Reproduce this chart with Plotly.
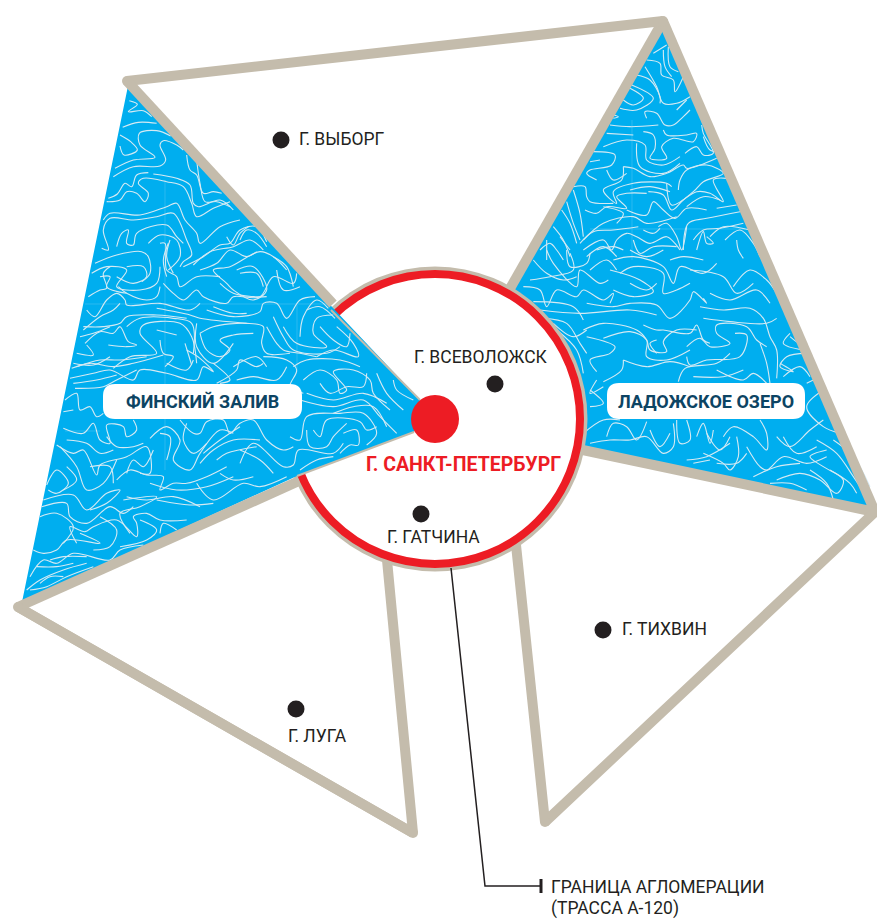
import plotly.graph_objects as go

BLUE = "#00AEEF"; BEIGE = "#C4BCAC"; RED = "#ED1C24"; INK = "#231F20"; NAVY = "#0C4463"; WAVE = "#D5EAF3"
FONT = "Roboto, Noto Sans, sans-serif"

# frame outlines (picture pixels)
top_x = [127, 663]; top_y = [81, 21]
gulf_upper_x = [127, 333]; gulf_upper_y = [81, 304]
gulf_lower_x = [18, 299]; gulf_lower_y = [607, 481]
gulf_thin_up_x = [331, 420]; gulf_thin_up_y = [310, 400]
gulf_thin_lo_x = [297, 414]; gulf_thin_lo_y = [476, 432]
lake_left_x = [663, 508]; lake_left_y = [21, 292]
lake_right_x = [663, 875]; lake_right_y = [21, 512]
lake_lower_x = [875, 578]; lake_lower_y = [512, 449]
south_w_x = [18, 413, 387]; south_w_y = [607, 833, 560]
south_e_x = [875, 545, 516]; south_e_y = [512, 822, 545]
corner_x = [127, 663, 875, 18, 413, 545]; corner_y = [81, 21, 512, 607, 833, 822]
gulf_x = [128, 22, 297, 414, 420, 333]; gulf_y = [86, 602, 476, 432, 400, 308]
lake_x = [663, 505, 575, 875]; lake_y = [25, 290, 446, 515]
leader_x = [451, 485, 540]; leader_y = [568, 886, 886]
tick_x = [541, 541]; tick_y = [879, 893]
seam_gulf = [[[165, 165], [180, 470]], [[297, 297], [305, 370]], [[85, 330], [304, 304]], [[65, 100], [431, 431]]]
seam_lake = [[[632, 632], [120, 260]], [[590, 745], [229, 229]]]

gulf_crop1 = [
 [(388,92),(412,103),(385,125),(430,122),(455,140)], [(368,172),(415,157),(470,160)],
 [(360,195),(392,215),(412,240),(372,255),(360,228)], [(345,295),(400,270),(465,262),(420,225),(418,190),(470,182),(512,198)],
 [(340,320),(400,290),(480,288),(497,270),(480,225),(490,212),(530,225),(550,240)], [(560,255),(570,300),(590,315),(610,370),(640,365),(665,370)],
 [(325,385),(352,372),(375,340),(395,350),(410,315),(445,308)],
 [(320,395),(360,390),(380,365),(410,370),(435,395),(445,370),(415,340),(430,325),(500,335),(550,350),(575,400),(590,440),(640,415),(690,395)],
 [(460,312),(530,325),(570,345),(580,400),(595,410),(660,390),(700,420)],
 [(310,450),(330,430),(420,435),(500,410),(530,400),(555,450),(590,490),(600,520),(660,470),(720,450)],
 [(305,535),(325,540),(310,480),(330,445),(400,450),(470,440),(520,430),(560,510),(575,555),(550,575),(540,590)],
 [(350,530),(365,490),(385,480),(380,520),(400,525),(410,490),(500,465),(530,500),(550,520)],
 [(480,520),(495,520),(500,600),(530,620),(540,650),(590,620),(660,620)], [(285,580),(350,555),(425,545),(445,560),(450,610),(425,635)],
 [(445,520),(480,495),(530,510),(540,560),(505,600)], [(275,610),(320,590),(380,600),(350,650),(420,660),(470,640),(480,590)],
 [(550,590),(610,560),(660,525),(690,520),(720,480),(770,470),(800,515)], [(580,585),(630,545),(700,530),(750,510),(790,540)],
 [(710,600),(760,590),(800,660),(760,690),(700,660),(680,640),(640,600),(690,590),(780,545),(820,560),(860,600)],
 [(265,680),(300,660),(320,655),(310,610),(330,590)], [(260,720),(285,740),(320,690),(350,670),(375,690),(380,705),(480,700),(570,720),(600,700)],
 [(480,650),(470,680),(440,690),(380,670),(355,650)],
 [(490,640),(520,670),(550,690),(590,660),(610,680),(680,700),(700,680),(780,680),(820,620),(880,640),(890,610)],
 [(620,720),(700,740),(780,725),(790,700),(830,700),(860,745),(900,690),(945,680)], [(470,715),(570,735),(600,745),(740,760)],
 [(640,710),(700,730),(740,730)], [(250,770),(310,770),(360,760),(380,740),(470,735),(560,745)],
 [(255,820),(300,785),(340,790),(360,770),(385,815),(410,825),(380,830),(325,825)], [(230,850),(280,855),(260,825)],
 [(220,880),(280,885),(330,860)], [(340,895),(390,860),(470,850),(420,790),(430,765),(540,760),(575,800),(590,880)],
 [(480,810),(490,850),(520,860),(495,890)], [(470,780),(530,795)], [(555,820),(575,885)],
 [(600,790),(640,770),(740,760),(790,770),(785,820),(800,850),(870,850)], [(600,790),(620,840),(660,860),(690,840),(660,810),(700,795),(760,790)],
 [(850,770),(890,820),(980,830),(940,790),(950,745),(1000,735)], [(900,800),(910,740),(950,690),(985,715)],
 [(1010,770),(1060,820),(1075,860),(1000,840),(950,860)], [(700,890),(770,860),(800,890)], [(880,890),(920,870),(1020,870),(1080,890)],
 [(590,270),(600,340),(615,395),(650,395),(690,410)], [(720,510),(740,480),(770,490),(800,530)], [(680,500),(700,525),(720,490),(745,470)],
 [(600,600),(650,580),(690,540),(740,560),(770,545)], [(820,560),(860,590),(880,650)], [(830,600),(850,660),(900,650)],
 [(660,640),(700,670),(760,680),(800,680)], [(720,610),(770,610),(790,650)], [(510,510),(500,560),(520,610)], [(505,520),(490,570),(500,620)],
 [(350,620),(400,640),(440,620),(430,590),(380,590)], [(300,620),(330,620),(320,650),(380,670)], [(250,780),(300,740),(340,720),(360,700)],
 [(240,800),(280,790),(330,770)], [(380,770),(420,745),(520,745),(575,760),(580,850)], [(590,760),(590,830),(640,880),(700,820)],
 [(800,770),(830,820),(850,840),(900,850),(950,860)], [(820,740),(850,800),(880,840),(980,850),(1020,830)], [(960,770),(1000,810),(1040,830),(1050,790)],
 [(920,720),(960,710),(1005,745)],
]
gulf_crop2 = [
 [(215,55),(270,40),(340,50),(400,40),(490,15)], [(210,85),(280,70),(330,60),(400,90),(420,60),(500,70),(590,90),(610,50),(640,65),(600,25),(560,0)],
 [(225,115),(310,110),(350,90),(410,60)], [(195,150),(230,130),(240,180),(270,170),(290,200),(310,190)], [(190,185),(220,180)],
 [(650,100),(710,60),(720,30),(770,50),(790,40)], [(790,20),(860,30),(890,60),(870,110),(910,130)],
 [(910,90),(960,60),(1010,90),(1020,130),(1040,120),(1000,65),(1060,60),(1110,90),(1120,130),(1170,180)],
 [(920,130),(1000,150),(1090,130),(1160,160)], [(1180,90),(1190,120),(1240,150)], [(900,150),(1000,170),(1090,150),(1140,200),(1190,250)],
 [(870,260),(900,270),(920,200),(1020,190),(1090,190),(1130,250),(1100,285)], [(940,240),(960,260),(980,210),(1080,215),(1100,240),(1130,230)],
 [(1030,250),(1070,240),(1075,285),(1050,285),(1020,310)],
 [(190,235),(250,250),(280,220),(300,270),(330,280),(320,225),(370,230),(380,260),(410,240),(400,210)],
 [(170,285),(220,310),(250,300),(290,375),(300,345),(380,320),(440,290),(450,370),(420,370)],
 [(450,265),(500,230),(540,270),(520,330),(570,360),(600,310),(660,240),(700,250)], [(480,250),(510,260),(500,330)],
 [(540,210),(580,250),(600,250),(620,215),(670,210),(690,250),(720,220),(760,210),(800,270),(850,300),(880,290)],
 [(610,310),(660,270),(720,230)], [(720,340),(760,280),(850,350),(880,345),(895,300),(1000,310),(1030,280)], [(650,330),(680,310),(770,290)],
 [(140,405),(170,360),(205,400),(170,430),(145,420)], [(180,290),(230,350),(260,420),(310,400),(350,330)], [(380,370),(400,330),(430,350),(460,300)],
 [(350,390),(390,360),(440,375),(490,380),(480,420),(520,400),(560,400),(620,380),(680,350)], [(590,400),(640,450),(730,400),(780,410),(860,380)],
 [(380,440),(440,450),(520,440),(600,470)], [(470,450),(570,465),(640,460)], [(130,450),(220,435),(260,480),(320,430),(360,420),(320,460),(270,480)],
 [(370,450),(470,440),(420,470),(360,490),(390,550)], [(125,470),(200,460),(210,500),(260,520),(330,470),(370,490),(400,470)],
 [(230,580),(210,530),(255,545),(280,530),(350,510),(410,560),(410,520),(400,500),(440,490),(480,510),(560,510)],
 [(100,600),(130,610),(170,600),(200,570),(300,580),(240,550)], [(480,550),(490,520),(530,540)],
 [(90,680),(130,630),(170,640),(220,610),(330,630),(360,600),(430,585)], [(80,720),(120,690),(190,660),(260,640)],
 [(120,700),(150,680),(190,680)], [(90,720),(140,710),(200,680),(280,650)], [(900,360),(950,330),(1000,320)],
 [(230,50),(300,30),(360,30),(440,20)], [(220,100),(290,90),(350,75)], [(500,40),(560,60),(580,30)], [(640,40),(690,90),(660,100)],
 [(710,90),(760,80),(830,90),(860,50)], [(960,100),(990,130),(1040,110),(1090,110),(1100,70)], [(1130,70),(1160,130),(1210,180)],
 [(1000,190),(1060,170),(1120,170),(1160,230)], [(920,240),(930,290),(980,290),(1000,260),(1040,220)], [(320,260),(350,290),(400,290),(430,280)],
 [(200,270),(260,280),(300,310),(340,300)], [(560,220),(550,270),(580,310),(620,280)], [(600,340),(640,300),(700,270),(780,270)],
 [(720,300),(780,330),(820,370)], [(660,370),(700,390),(760,380)], [(200,350),(230,390),(190,420)], [(270,350),(330,350),(340,400)],
 [(450,400),(530,420),(620,410),(700,380)], [(120,500),(170,490),(220,530),(190,580)], [(300,500),(350,540),(330,590),(280,600)],
 [(420,510),(470,540),(440,570),(360,590)], [(150,630),(190,620),(260,620)], [(110,650),(170,650),(220,640)],
]
lake_crop3 = [
 [(490,130),(530,105)], [(535,110),(540,170),(565,185)], [(470,150),(510,160),(515,195),(550,210),(555,245),(580,200)],
 [(465,170),(500,230),(520,280),(560,280),(600,260)], [(440,195),(480,210),(510,260),(510,280)], [(425,225),(490,265),(440,300),(390,295)],
 [(420,235),(460,265),(430,285),(400,270)], [(370,315),(385,320),(370,325)], [(360,345),(420,350),(505,345)],
 [(600,300),(580,320),(550,345),(525,345),(500,310),(465,305),(470,325)],
 [(460,365),(490,375),(495,415),(480,445),(530,445),(515,410),(550,385),(610,395),(620,370),(590,375),(530,375),(520,360)],
 [(350,370),(430,375)], [(340,410),(410,390),(465,405),(470,450),(520,465),(570,440)], [(310,425),(375,435),(365,465),(300,480),(290,490),(320,510)],
 [(300,455),(330,450)], [(585,430),(620,410),(640,435),(670,430),(640,370),(635,345)],
 [(400,470),(395,510),(340,540),(380,580),(370,545),(430,520),(530,520),(545,530)], [(400,470),(430,475),(480,500),(530,490),(580,465),(590,475),(680,445)],
 [(565,540),(570,510),(590,480),(650,465),(700,490),(640,515),(610,545),(545,585),(530,520)], [(250,530),(285,530),(290,560),(300,575),(370,580)],
 [(250,540),(270,610),(280,680)], [(285,600),(320,610),(350,590),(410,595),(380,560),(410,550),(470,550)],
 [(475,545),(520,555),(545,600),(580,570),(620,545),(660,550),(700,575),(670,510),(710,505)], [(410,600),(470,615),(490,575),(520,600),(555,625),(590,595),(650,600)],
 [(680,595),(740,585)], [(230,575),(250,640),(270,690)], [(215,600),(240,640),(260,700)], [(280,690),(340,640),(430,620),(470,640),(560,620)],
 [(270,700),(310,665),(370,660),(445,650)], [(580,720),(595,640),(650,625),(750,605)], [(505,650),(530,640),(560,680),(575,720),(590,650)],
 [(460,660),(490,670),(510,655)], [(280,720),(340,690),(365,720),(380,690),(410,670),(440,680),(480,700),(530,680),(555,700),(570,720)],
 [(620,720),(640,665),(650,700),(670,700),(650,680)], [(610,690),(640,660),(690,655),(760,640)], [(705,690),(750,660),(790,700),(810,740)],
 [(740,690),(745,720),(760,745)], [(320,720),(370,710),(400,720)], [(150,720),(180,700),(200,720),(220,750)], [(190,650),(220,690),(240,740)],
 [(420,720),(470,740),(520,720)], [(170,690),(170,750)],
 [(520,120),(525,170),(545,200)], [(590,270),(560,300)], [(640,380),(660,420),(690,425)], [(440,400),(450,470),(520,490),(570,460)],
 [(350,480),(370,510),(410,490)], [(420,540),(480,530),(540,545)], [(590,590),(640,560),(690,570)], [(340,590),(400,610),(380,640)],
 [(660,680),(700,650),(780,660)], [(430,690),(450,730),(490,710),(560,710)], [(290,740),(340,710),(380,740)], [(210,680),(240,720)],
]
lake_crop4 = [
 [(170,0),(190,40),(260,110),(270,60),(330,100),(355,90)], [(120,90),(180,80),(250,60),(240,10)], [(230,0),(240,50),(290,40),(300,10)],
 [(100,110),(150,120),(170,170),(200,120),(260,140),(280,120),(340,150),(370,130),(360,160)], [(370,30),(430,20),(520,50),(550,100),(570,50),(640,70),(680,40)],
 [(390,70),(430,50),(520,70),(520,130),(560,120),(600,100)], [(360,60),(450,90),(490,125),(430,140),(370,120)], [(130,155),(250,170),(280,210)],
 [(290,160),(370,170),(420,160),(500,165),(540,205),(600,150),(610,125),(650,160),(640,145)], [(150,180),(270,190),(420,180),(500,195)],
 [(160,205),(230,220),(270,280),(290,310)], [(280,240),(340,220),(440,240),(470,270),(480,300),(530,305),(520,275),(560,240),(620,240)],
 [(340,265),(420,245),(470,270),(470,320),(530,330),(600,300)], [(290,260),(375,290),(360,310),(300,330),(320,365)],
 [(460,225),(500,240),(520,240),(600,250),(620,225),(640,270),(660,280)], [(590,290),(630,265),(660,290),(720,280),(680,250),(680,225),(770,230),(800,270),(830,290)],
 [(640,205),(720,215),(830,220),(860,205)], [(630,170),(700,180),(780,175),(820,205),(840,260),(860,300),(860,385)],
 [(735,250),(770,255),(750,320),(650,330),(600,345),(590,320)], [(400,330),(395,360),(340,395)], [(400,330),(470,350),(540,335),(600,350)],
 [(565,395),(585,355),(680,340),(720,310)], [(810,280),(830,340),(840,400)], [(870,340),(910,365),(870,350),(890,320),(950,310)],
 [(680,360),(760,390),(790,370),(830,400)], [(900,260),(930,280),(900,200)], [(300,420),(340,460),(300,470)], [(280,550),(340,510),(390,510)],
 [(350,560),(370,520),(410,530),(440,570),(470,515)], [(300,580),(360,570),(420,570),(470,560),(520,610),(550,590),(550,520)],
 [(560,510),(570,580),(600,570),(590,510)], [(620,560),(640,520),(660,580),(670,540)], [(700,560),(730,530),(790,560),(830,600),(830,550),(810,510)],
 [(740,560),(745,620),(720,660),(700,640),(640,610)], [(590,630),(650,620),(720,580)], [(770,590),(810,650),(830,660),(880,620),(950,640),(1010,620)],
 [(860,560),(900,590),(960,540),(1000,510)], [(860,690),(930,670),(990,690),(1040,730),(1060,690),(1000,650),(960,620),(1010,600)],
 [(1030,570),(1090,620),(1140,710)], [(1000,420),(950,470),(1000,530),(1050,550)], [(950,400),(990,380)], [(840,700),(900,700),(950,720)], [(610,640),(660,630)],
 [(130,30),(170,70),(220,90),(260,80)], [(300,60),(350,30),(380,60)], [(420,100),(470,120),(500,100)], [(540,30),(580,20),(640,30)],
 [(600,60),(700,80),(740,130),(790,100)], [(660,130),(720,150),(800,120),(840,160)], [(730,110),(780,60),(830,90),(860,130)], [(190,220),(250,260),(290,240)],
 [(200,240),(260,300),(280,370)], [(500,270),(480,280),(500,310)], [(610,380),(700,380),(760,360)], [(880,380),(930,350),(960,380)], [(900,250),(880,280),(940,300)],
 [(320,390),(300,430),(340,410)], [(480,540),(510,590),(540,550)], [(650,550),(690,600),(720,560)], [(680,640),(740,640),(770,610)], [(880,560),(920,610),(980,590)],
 [(980,570),(1040,610),(1090,680),(1130,740)], [(1020,660),(1080,700),(1100,730)], [(790,680),(860,650),(930,640)], [(960,660),(1010,700),(1030,750)],
]

# places
town_x = [281, 495, 421, 603, 296]
town_y = [140, 384, 514, 630, 709]
hub_x = [435]; hub_y = [419]
label_text = ["Г. ВЫБОРГ", "Г. ВСЕВОЛОЖСК", "Г. ГАТЧИНА", "Г. ТИХВИН", "Г. ЛУГА", "ГРАНИЦА АГЛОМЕРАЦИИ", "(ТРАССА А-120)"]
label_x = [297, 412, 385, 620, 286, 549, 549]
label_y = [139, 357, 537, 629, 736, 887, 908]
water_text = ["ФИНСКИЙ ЗАЛИВ", "ЛАДОЖСКОЕ ОЗЕРО"]
water_x = [202, 706]; water_y = [401, 401]
box_x0 = [103, 607]; box_x1 = [302, 805]; box_y0 = [384, 383]; box_y1 = [419, 419]


def unroll(groups):
    xs, ys = [], []
    for lines, ox, oy in groups:
        for line in lines:
            xs += [p[0] / 3 + ox for p in line] + [None]
            ys += [p[1] / 3 + oy for p in line] + [None]
    return xs, ys


fig = go.Figure()


def add_line(x, y, color=BEIGE, width=10, **kw):
    fig.add_trace(go.Scatter(x=x, y=y, mode="lines", line=dict(color=color, width=width, **kw), hoverinfo="skip"))


def add_area(x, y, color):
    fig.add_trace(go.Scatter(x=x, y=y, mode="lines", fill="toself", fillcolor=color, line=dict(width=0), hoverinfo="skip"))


def add_seams(seams):
    for sx, sy in seams:
        add_line(sx, sy, color="#35BDF1", width=0.8)


# lake, its frame, then the city disc over it
add_area(lake_x, lake_y, BLUE)
add_seams(seam_lake)
lx, ly = unroll([(lake_crop3, 490, 10), (lake_crop4, 490, 250)])
add_line(lx, ly, color=WAVE, width=1.1, shape="spline", smoothing=1)
add_line(lake_left_x, lake_left_y); add_line(lake_right_x, lake_right_y); add_line(lake_lower_x, lake_lower_y)
add_line(top_x, top_y); add_line(south_w_x, south_w_y); add_line(south_e_x, south_e_y)
fig.add_trace(go.Scatter(x=hub_x, y=hub_y, mode="markers", hoverinfo="skip",
                         marker=dict(size=305, color=BEIGE, line=dict(width=0))))
fig.add_trace(go.Scatter(x=hub_x, y=hub_y, mode="markers", hoverinfo="skip",
                         marker=dict(size=290, color="white", line=dict(width=8, color=RED))))
# gulf wedge lies over the disc
add_area(gulf_x, gulf_y, BLUE)
add_seams(seam_gulf)
gx, gy = unroll([(gulf_crop1, 0, 70), (gulf_crop2, 0, 350)])
add_line(gx, gy, color=WAVE, width=1.1, shape="spline", smoothing=1)
add_line(gulf_upper_x, gulf_upper_y); add_line(gulf_lower_x, gulf_lower_y)
add_line(gulf_thin_up_x, gulf_thin_up_y, width=2); add_line(gulf_thin_lo_x, gulf_thin_lo_y, width=2)
add_line(south_w_x[:2], south_w_y[:2])
fig.add_trace(go.Scatter(x=corner_x, y=corner_y, mode="markers", hoverinfo="skip", marker=dict(size=10, color=BEIGE, line=dict(width=0))))
fig.add_trace(go.Scatter(x=hub_x, y=hub_y, mode="markers", hoverinfo="skip", marker=dict(size=48, color=RED, line=dict(width=0))))
fig.add_trace(go.Scatter(x=town_x, y=town_y, mode="markers", hoverinfo="skip", marker=dict(size=17, color=INK, line=dict(width=0))))
add_line(leader_x, leader_y, color=INK, width=1.5)
add_line(tick_x, tick_y, color=INK, width=3)

shapes = []
r = 12
for a, b, c, d in zip(box_x0, box_x1, box_y0, box_y1):
    shapes.append(dict(type="path", layer="above", fillcolor="white", line=dict(width=0),
                       path=f"M{a+r},{c} L{b-r},{c} Q{b},{c} {b},{c+r} L{b},{d-r} Q{b},{d} {b-r},{d} "
                            f"L{a+r},{d} Q{a},{d} {a},{d-r} L{a},{c+r} Q{a},{c} {a+r},{c} Z"))

ann = []
for t, x, y in zip(label_text, label_x, label_y):
    ann.append(dict(text=t, x=x, y=y, xref="x", yref="y", xanchor="left", yanchor="middle", showarrow=False,
                    font=dict(family=FONT, size=17.5, color=INK)))
for t, x, y in zip(water_text, water_x, water_y):
    ann.append(dict(text=f"<b>{t}</b>", x=x, y=y, xref="x", yref="y", xanchor="center", yanchor="middle", showarrow=False,
                    font=dict(family=FONT, size=18, color=NAVY)))
ann.append(dict(text="<b>Г. САНКТ-ПЕТЕРБУРГ</b>", x=463, y=464, xref="x", yref="y", xanchor="center", yanchor="middle",
                showarrow=False, font=dict(family=FONT, size=19.5, color=RED)))

fig.update_layout(
    width=877, height=920, margin=dict(l=0, r=0, t=0, b=0), showlegend=False,
    paper_bgcolor="white", plot_bgcolor="white", shapes=shapes, annotations=ann,
    xaxis=dict(range=[0, 877], visible=False, fixedrange=True),
    yaxis=dict(range=[920, 0], visible=False, fixedrange=True),
)
fig.write_html("out.html", config=dict(displayModeBar=False), post_script="document.body.style.margin='0';")
